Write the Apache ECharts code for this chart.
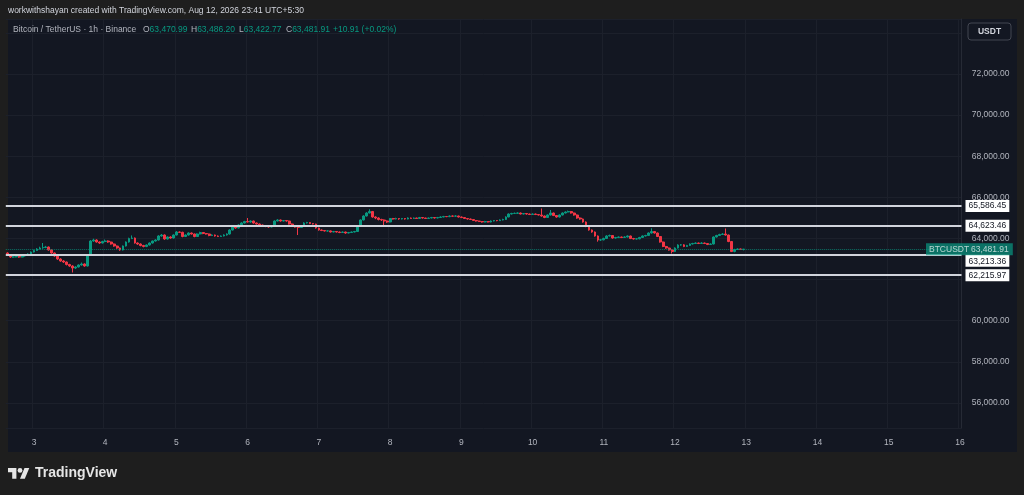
<!DOCTYPE html>
<html>
<head>
<meta charset="utf-8">
<script src="https://cdn.jsdelivr.net/npm/echarts@6.0.0/dist/echarts.min.js"></script>
<style>
html,body{margin:0;padding:0;background:#1e1e1e;}
#c{width:1024px;height:495px;}
</style>
</head>
<body>
<div id="c"></div>
<script>
// ---- data ----
const firstOpen = 63295;
const closes = [63198,63100,63105,63125,63095,63149,63173,63246,63343,63416,
63489,63538,63562,63587,63441,63295,63149,63003,62906,62857,
62736,62663,62565,62614,62711,62760,62663,63198,63878,63927,
63830,63781,63854,63878,63830,63733,63635,63538,63441,63635,
63830,64000,64024,63781,63733,63660,63611,63684,63781,63878,
63927,64122,64170,63976,64073,64024,64170,64316,64300,64097,
64170,64267,64219,64097,64219,64292,64243,64219,64146,64170,
64122,64097,64122,64170,64219,64413,64559,64511,64657,64754,
64827,64802,64851,64754,64705,64657,64608,64584,64559,64608,
64851,64900,64851,64875,64851,64705,64608,64559,64535,64608,
64754,64778,64729,64705,64511,64413,64389,64365,64370,64316,
64340,64316,64292,64316,64267,64292,64316,64340,64608,64900,
65094,65240,65313,65046,64997,64924,64900,64851,64802,64973,
64948,64973,64948,64973,64948,64997,64973,64997,64973,65021,
64997,64973,64997,65021,64997,65021,65046,65070,65062,65094,
65085,65094,65046,65021,64973,64948,64924,64875,64851,64827,
64802,64827,64802,64851,64875,64868,64900,64924,65046,65191,
65216,65225,65240,65191,65216,65191,65167,65191,65167,65143,
65094,65021,65143,65240,65118,65046,65143,65240,65289,65313,
65240,65143,64997,64948,64802,64584,64413,64316,64122,63927,
63935,64000,64122,64146,64024,64049,64073,64049,64073,64122,
64000,63976,63985,64049,64122,64146,64267,64340,64267,64097,
63830,63611,63538,63441,63368,63538,63684,63690,63611,63660,
63733,63757,63781,63757,63781,63757,63708,63733,64073,64146,
64195,64219,64170,63854,63368,63465,63489,63470.99,63481.91];
const highs = [63330,63230,63150,63160,63150,63180,63210,63280,63370,63460,
63530,63600,63781,63640,63610,63470,63320,63180,63040,62950,
62880,62770,62700,62650,62740,62830,62790,63230,63920,63990,
63960,63860,63890,63950,63910,63850,63760,63660,63560,63660,
63860,64040,64150,64050,63810,63760,63690,63710,63810,63900,
63960,64160,64220,64200,64100,64110,64200,64360,64340,64330,
64200,64300,64290,64240,64250,64330,64310,64270,64240,64200,
64190,64150,64150,64200,64250,64450,64590,64580,64690,64790,
64860,64997,64880,64870,64780,64730,64680,64630,64610,64640,
64880,64940,64920,64900,64900,64870,64730,64630,64580,64640,
64790,64810,64800,64750,64720,64530,64440,64410,64400,64390,
64370,64360,64340,64340,64330,64320,64340,64370,64640,64930,
65130,65280,65420,65340,65080,65030,64960,64930,64880,65000,
65000,65010,64990,65000,64990,65030,65020,65020,65010,65050,
65040,65010,65020,65050,65040,65050,65080,65100,65090,65120,
65120,65130,65110,65070,65040,64990,64970,64940,64900,64870,
64850,64860,64850,64880,64900,64900,64930,64960,65080,65220,
65250,65260,65270,65260,65240,65230,65210,65220,65210,65190,
65459,65120,65170,65386,65260,65140,65170,65270,65320,65360,
65340,65260,65170,65030,64970,64830,64610,64440,64340,64150,
63980,64040,64160,64190,64170,64080,64100,64090,64110,64150,
64140,64030,64010,64080,64150,64180,64300,64496,64360,64290,
64110,63850,63640,63560,63470,63570,63720,63730,63720,63690,
63760,63790,63810,63800,63820,63800,63780,63760,64100,64180,
64230,64260,64486,64190,63880,63500,63520,63510,63486.20];
const lows = [63170,63060,63070,63080,63060,63080,63120,63150,63220,63320,
63390,63470,63500,63530,63410,63260,63110,62960,62870,62810,
62690,62620,62347,62520,62590,62680,62630,62640,63170,63840,
63800,63740,63760,63820,63790,63700,63600,63500,63400,63420,
63610,63800,63970,63750,63690,63620,63570,63580,63660,63750,
63850,63900,64090,63940,63950,63990,64000,64150,64270,64060,
64070,64140,64190,64060,64080,64200,64210,64190,64110,64120,
64090,64070,64080,64100,64140,64190,64390,64480,64490,64630,
64730,64780,64770,64720,64680,64620,64580,64550,64520,64540,
64590,64830,64820,64830,64820,64680,64580,64530,64170,64510,
64590,64730,64700,64680,64480,64380,64360,64340,64340,64290,
64300,64290,64260,64270,64230,64250,64270,64300,64320,64590,
64880,65070,65220,65010,64940,64880,64850,64584,64760,64780,
64920,64930,64910,64930,64920,64930,64950,64950,64950,64960,
64970,64950,64950,64980,64970,64980,65000,65030,65040,65040,
65060,65060,65020,64990,64950,64920,64900,64850,64820,64800,
64770,64780,64780,64780,64830,64840,64850,64880,64900,65030,
65170,65190,65200,65170,65170,65160,65140,65150,65140,65120,
65060,64990,65000,65120,65090,65010,65020,65120,65220,65270,
65210,65110,64960,64910,64770,64550,64380,64280,64090,63845,
63880,63910,63980,64100,63990,64000,64020,64020,64030,64050,
63970,63950,63950,63960,64030,64100,64120,64240,64240,64070,
63800,63580,63500,63410,63271,63340,63510,63650,63580,63590,
63640,63710,63740,63730,63740,63730,63680,63690,63710,64050,
64120,64170,64140,63820,63340,63330,63440,63440,63422.77];
const levels = [65586.45, 64623.46, 63213.36, 62215.97];
const lastPrice = 63481.91;
const dayLabels = ['3','4','5','6','7','8','9','10','11','12','13','14','15','16'];
const startHourUTC = Date.UTC(2026, 7, 2, 15); // first candle: Aug 2 15:00
const slotCount = 322;     // hourly slots shown on the time axis
const firstMidnight = 9;   // slot index of Aug 3 00:00

// ---- build ----
const categories = [];
for (let i = 0; i < slotCount; i++) {
  const d = new Date(startHourUTC + i * 3600000);
  categories.push(d.toISOString().slice(0, 13));
}
const ohlc = closes.map((c, i) => [i === 0 ? firstOpen : closes[i - 1], c, lows[i], highs[i]]);
const fmt = v => v.toLocaleString('en-US', {minimumFractionDigits: 2, maximumFractionDigits: 2});
const isMidnight = idx => (idx - firstMidnight) % 24 === 0 && idx >= firstMidnight;

const FONT = '"Liberation Sans", Arial, sans-serif';
const UP = '#089981', DOWN = '#f23645';

const levelLines = levels.map((v) => {
  const item = {yAxis: v, label: {formatter: fmt(v)}};
  if (v === 63213.36) item.label.verticalAlign = 'top';
  return item;
});

const chart = echarts.init(document.getElementById('c'), null, {renderer: 'canvas'});
chart.setOption({
  animation: false,
  backgroundColor: '#1e1e1e',
  grid: {left: 5.8, right: 62.5, top: 19, bottom: 67},
  xAxis: {
    type: 'category',
    data: categories,
    boundaryGap: true,
    axisLine: {show: false},
    axisTick: {show: false},
    axisLabel: {
      interval: (idx) => isMidnight(idx),
      formatter: (val, idx) => dayLabels[(idx - firstMidnight) / 24] || '',
      color: '#b2b5be', fontSize: 8.5, fontFamily: FONT, margin: 10
    },
    splitLine: {show: true, interval: (idx) => isMidnight(idx), lineStyle: {color: '#1c202b', width: 1}}
  },
  yAxis: {
    type: 'value',
    position: 'right',
    scale: true,
    min: 54784,
    max: 74675,
    splitNumber: 10,
    minInterval: 2000,
    maxInterval: 2000,
    axisLine: {show: true, lineStyle: {color: '#262a35'}},
    axisTick: {show: false},
    axisLabel: {
      showMinLabel: false, showMaxLabel: false,
      formatter: v => (v % 2000 === 0 && v !== 74000 && v !== 62000) ? fmt(v) : '',
      align: 'right', margin: 48, color: '#b2b5be', fontSize: 8.5, fontFamily: FONT
    },
    splitLine: {show: true, lineStyle: {color: '#1c202b', width: 1}}
  },
  series: [{
    type: 'candlestick',
    data: ohlc,
    barWidth: 2.3,
    itemStyle: {color: UP, color0: DOWN, borderColor: UP, borderColor0: DOWN, borderWidth: 1},
    markLine: {
      silent: true,
      symbol: ['none', 'none'],
      animation: false,
      lineStyle: {color: '#d1d4dc', width: 2, type: 'solid'},
      label: {
        show: true, position: 'end', distance: 4,
        backgroundColor: '#ffffff', color: '#131722',
        fontSize: 8.5, fontFamily: FONT, padding: [2, 3, 1, 3]
      },
      data: levelLines.concat([{
        yAxis: lastPrice,
        lineStyle: {color: UP, width: 1, type: 'dotted', opacity: 0.7},
        label: {
          distance: -35.5, backgroundColor: UP, color: '#ffffff', padding: [2, 0, 1, 0],
          formatter: '{a|BTCUSDT}{b|' + fmt(lastPrice) + '}',
          rich: {
            a: {color: '#ffffff', fontSize: 8.5, fontFamily: FONT, width: 36, padding: [0, 2, 0, 3]},
            b: {color: '#ffffff', fontSize: 8.5, fontFamily: FONT, padding: [0, 4, 0, 4]}
          }
        }
      }])
    }
  }],
  graphic: [
    {type: 'rect', z: -10, silent: true, shape: {x: 8, y: 19, width: 1009, height: 433}, style: {fill: '#131722'}},
    {type: 'text', x: 8, y: 11, style: {text: 'workwithshayan created with TradingView.com, Aug 12, 2026 23:41 UTC+5:30', fill: '#d1d4dc', fontSize: 8.5, fontFamily: FONT, verticalAlign: 'middle'}},
    {type: 'text', x: 13, y: 30, z: 10, style: {text: 'Bitcoin / TetherUS · 1h · Binance', fill: '#b2b5be', fontSize: 8.5, fontFamily: FONT, verticalAlign: 'middle'}},
    {type: 'text', x: 143, y: 30, z: 10, style: {text: '{l|O}{v|63,470.99}', verticalAlign: 'middle', rich: {l: {fill: '#b2b5be', fontSize: 8.5, fontFamily: FONT}, v: {fill: UP, fontSize: 8.5, fontFamily: FONT}}}},
    {type: 'text', x: 191, y: 30, z: 10, style: {text: '{l|H}{v|63,486.20}', verticalAlign: 'middle', rich: {l: {fill: '#b2b5be', fontSize: 8.5, fontFamily: FONT}, v: {fill: UP, fontSize: 8.5, fontFamily: FONT}}}},
    {type: 'text', x: 239, y: 30, z: 10, style: {text: '{l|L}{v|63,422.77}', verticalAlign: 'middle', rich: {l: {fill: '#b2b5be', fontSize: 8.5, fontFamily: FONT}, v: {fill: UP, fontSize: 8.5, fontFamily: FONT}}}},
    {type: 'text', x: 286, y: 30, z: 10, style: {text: '{l|C}{v|63,481.91}', verticalAlign: 'middle', rich: {l: {fill: '#b2b5be', fontSize: 8.5, fontFamily: FONT}, v: {fill: UP, fontSize: 8.5, fontFamily: FONT}}}},
    {type: 'text', x: 333, y: 30, z: 10, style: {text: '+10.91 (+0.02%)', fill: UP, fontSize: 8.5, fontFamily: FONT, verticalAlign: 'middle'}},
    {type: 'rect', z: 10, shape: {x: 968, y: 23, width: 43, height: 17, r: 3}, style: {fill: '#131722', stroke: '#434651', lineWidth: 1}},
    {type: 'text', x: 989.5, y: 31.5, z: 11, style: {text: 'USDT', fill: '#d1d4dc', fontSize: 8.5, fontWeight: 'bold', fontFamily: FONT, align: 'center', verticalAlign: 'middle'}},
    {type: 'group', x: 8, y: 465.6, scaleX: 0.6, scaleY: 0.6, children: [
      {type: 'polygon', shape: {points: [[14,22],[7,22],[7,11],[0,11],[0,4],[14,4]]}, style: {fill: '#e6e6e6'}},
      {type: 'polygon', shape: {points: [[28,22],[20,22],[27.5,4],[35.5,4]]}, style: {fill: '#e6e6e6'}},
      {type: 'circle', shape: {cx: 20, cy: 8, r: 4}, style: {fill: '#e6e6e6'}}
    ]},
    {type: 'text', x: 35, y: 473.5, style: {text: 'TradingView', fill: '#e6e6e6', fontSize: 14, fontWeight: 'bold', fontFamily: FONT, verticalAlign: 'middle'}}
  ]
});
</script>
</body>
</html>
